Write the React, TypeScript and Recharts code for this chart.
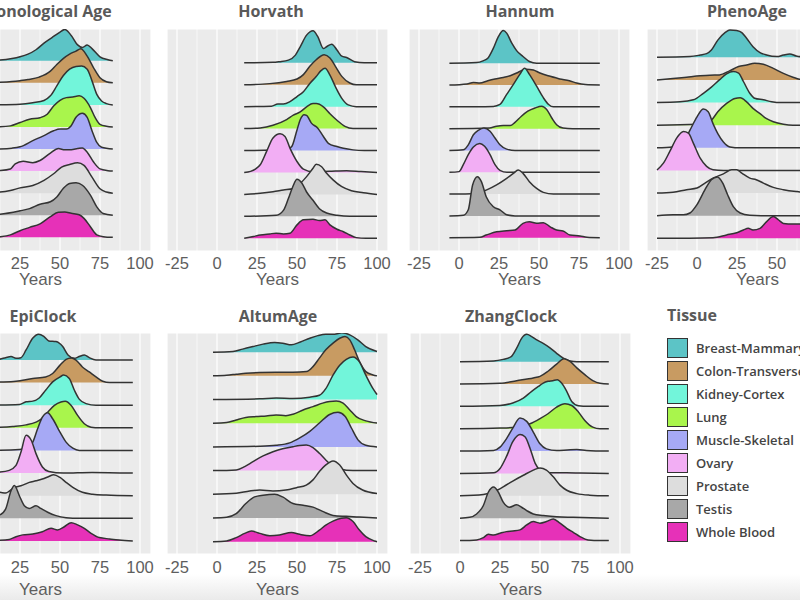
import { ComposedChart, Area, XAxis, YAxis, CartesianGrid } from "recharts";

type Pt = [number, number];

const TISSUES = [
  "Breast-Mammary",
  "Colon-Transverse",
  "Kidney-Cortex",
  "Lung",
  "Muscle-Skeletal",
  "Ovary",
  "Prostate",
  "Testis",
  "Whole Blood",
];
const COLORS = [
  "#5CC4C6",
  "#C89B62",
  "#72F5DA",
  "#A9F54C",
  "#A6A9F5",
  "#F2AEF4",
  "#DDDDDD",
  "#A8A8A8",
  "#E631B8",
];

const X_TICKS = [-25, 0, 25, 50, 75, 100];
const X_MINOR = [-12.5, 12.5, 37.5, 62.5, 87.5];
const ROWS = [0, 1, 2, 3, 4, 5, 6, 7, 8];

// density ridges: [age, height in row units], one list per tissue (top to bottom)
const CHRONO: Pt[][] = [
  [[10, 0.02], [12.5, 0.03], [20, 0.1], [25, 0.18], [30, 0.3], [35, 0.5], [40, 0.8], [45, 1.05], [50, 1.3], [53, 1.42], [57, 1.15], [61, 0.72], [64, 0.6], [67, 0.72], [70, 0.55], [75, 0.18], [80, 0.05], [83, 0]],
  [[10, 0.02], [20, 0.06], [25, 0.1], [30, 0.15], [37, 0.26], [44, 0.53], [48, 0.83], [52, 1.1], [56, 1.3], [60, 1.44], [63, 1.55], [67, 1.21], [71, 0.68], [75, 0.23], [79, 0.05], [83, 0]],
  [[10, 0], [25, 0.03], [33, 0.1], [40, 0.2], [44, 0.41], [48, 0.86], [52, 1.32], [56, 1.62], [60, 1.74], [63.5, 1.76], [67, 1.62], [70, 1.09], [73, 0.48], [76, 0.18], [79, 0.06], [83, 0]],
  [[10, 0], [19, 0.05], [25, 0.2], [31, 0.35], [37.5, 0.42], [42, 0.58], [46, 0.95], [50, 1.21], [54, 1.33], [58, 1.36], [62, 1.41], [65, 1.3], [69, 0.88], [72, 0.42], [75, 0.12], [79, 0.03], [83, 0]],
  [[10, 0], [20, 0.04], [25, 0.1], [33, 0.38], [40, 0.61], [46, 0.83], [50, 0.91], [54, 0.91], [57, 1.06], [60, 1.44], [64, 1.62], [67, 1.44], [70, 0.83], [73, 0.3], [76, 0.08], [83, 0]],
  [[10, 0.02], [12.5, 0.03], [19, 0.1], [22, 0.33], [27, 0.45], [33, 0.38], [37.5, 0.48], [44, 0.82], [49, 1.02], [53, 0.97], [57, 0.97], [61, 1.02], [64, 1.05], [67, 0.86], [71, 0.41], [75, 0.1], [80, 0.02], [83, 0]],
  [[10, 0.04], [12.5, 0.05], [19, 0.12], [25, 0.24], [33, 0.35], [40, 0.58], [46, 0.88], [51, 1.18], [56, 1.3], [61, 1.38], [65, 1.26], [70, 0.73], [75, 0.2], [79, 0.05], [83, 0]],
  [[10, 0.04], [12.5, 0.05], [25, 0.2], [31, 0.3], [37.5, 0.5], [44, 0.61], [48, 0.83], [52, 1.21], [56, 1.44], [60, 1.47], [64, 1.36], [69, 0.91], [73, 0.38], [77, 0.08], [83, 0]],
  [[10, 0], [12.5, 0.02], [19, 0.11], [25, 0.3], [31, 0.45], [37.5, 0.61], [44, 0.94], [49, 1.14], [53, 1.15], [57, 1.09], [62, 1.02], [65, 0.86], [69, 0.48], [73, 0.11], [77, 0.03], [83, 0]],
];

const HORVATH: Pt[][] = [
  [[17, 0], [35, 0.02], [39, 0.05], [44.6, 0.12], [49, 0.35], [52, 0.73], [56, 1.26], [60, 1.46], [63, 1.19], [66.5, 0.65], [68.5, 0.73], [71.7, 0.85], [75, 0.58], [78, 0.3], [81, 0.24], [86, 0.05], [92, 0], [100, 0]],
  [[17, 0], [33, 0.05], [43.5, 0.15], [50, 0.26], [54, 0.46], [58, 0.84], [62, 1.14], [67, 1.37], [70.6, 1.22], [74, 0.84], [78, 0.38], [83, 0.08], [87, 0], [100, 0]],
  [[17, 0], [34, 0.02], [38, 0.12], [41.5, 0.12], [45.6, 0.23], [50, 0.46], [54, 0.68], [58, 1.06], [62, 1.37], [65, 1.64], [67.5, 1.75], [70.6, 1.44], [74, 0.91], [78, 0.38], [82, 0.08], [87, 0], [100, 0]],
  [[17, 0], [27, 0.03], [35, 0.15], [43.5, 0.41], [47.7, 0.61], [52, 0.76], [56, 0.99], [60, 1.14], [62, 1.14], [66.5, 0.99], [70.6, 0.68], [75, 0.38], [80, 0.1], [85, 0], [100, 0]],
  [[17, 0], [43.5, 0.03], [46.7, 0.18], [50, 0.94], [52, 1.4], [54.4, 1.63], [56, 1.6], [59, 1.25], [63, 1.02], [66.5, 0.64], [69.6, 0.33], [75, 0.18], [79, 0.1], [85, 0.03], [92, 0], [100, 0]],
  [[17, 0], [21, 0.05], [24, 0.15], [27, 0.35], [31, 0.96], [35, 1.57], [39.4, 1.76], [42.5, 1.64], [45.6, 1.11], [50, 0.5], [54, 0.15], [60, 0.03], [70, 0.05], [81, 0.08], [90, 0.04], [100, 0]],
  [[17, 0], [27, 0.05], [35, 0.12], [41.5, 0.2], [47.7, 0.27], [52, 0.5], [56, 0.81], [60, 1.19], [62, 1.37], [65.4, 1.26], [68.5, 0.96], [72.7, 0.65], [78, 0.35], [84, 0.17], [91.5, 0.08], [100, 0]],
  [[17, 0], [37, 0.05], [41.5, 0.27], [44.6, 0.81], [47.3, 1.34], [50, 1.69], [53, 1.52], [56, 1.11], [60, 0.73], [64, 0.35], [68.5, 0.15], [75, 0.05], [83, 0], [100, 0]],
  [[17, 0], [22.7, 0.08], [27, 0.15], [33, 0.2], [37, 0.23], [41.5, 0.2], [45.6, 0.23], [50, 0.61], [54, 0.84], [60, 0.87], [64, 0.81], [67.5, 0.84], [70.6, 0.61], [75, 0.41], [79, 0.3], [83, 0.15], [87, 0.03], [93, 0], [100, 0]],
];

const HANNUM: Pt[][] = [
  [[-6, 0], [11, 0.03], [15, 0.11], [18, 0.23], [21.5, 0.69], [24.6, 1.22], [27.7, 1.5], [29.8, 1.38], [33, 0.92], [36, 0.58], [40, 0.31], [44, 0.08], [48.5, 0], [88, 0]],
  [[-6, 0], [5, 0.05], [9, 0.12], [13, 0.09], [18, 0.2], [22.5, 0.28], [27.7, 0.35], [32, 0.43], [36, 0.55], [39, 0.66], [42, 0.73], [46.5, 0.69], [50.6, 0.55], [57, 0.4], [63, 0.28], [69, 0.2], [73.5, 0.09], [79, 0.02], [88, 0]],
  [[-6, 0], [21.5, 0.02], [25.6, 0.11], [29.8, 0.57], [34, 1.03], [38, 1.49], [41, 1.77], [44, 1.49], [48.5, 0.95], [52.7, 0.42], [56, 0.11], [59, 0], [88, 0]],
  [[-6, 0], [19, 0.03], [23.5, 0.11], [27.7, 0.14], [32, 0.14], [35, 0.29], [39, 0.57], [43, 0.8], [47.5, 0.95], [51.7, 1.03], [54.8, 0.88], [58, 0.49], [61, 0.18], [65, 0.03], [71, 0], [88, 0]],
  [[-6, 0], [2.7, 0.03], [5.8, 0.26], [9, 0.72], [12, 0.92], [15.6, 1.03], [19.4, 0.88], [22.5, 0.57], [25.6, 0.26], [29.8, 0.06], [35, 0], [88, 0]],
  [[-6, 0], [0, 0.03], [2.7, 0.35], [5.8, 0.81], [9, 1.16], [13, 1.32], [16, 1.19], [19.4, 0.81], [22.5, 0.35], [25.6, 0.09], [30, 0], [88, 0]],
  [[-6, 0], [11, 0.03], [17, 0.18], [23.5, 0.42], [29.8, 0.72], [34, 0.95], [37, 1.1], [40, 0.95], [44, 0.57], [48.5, 0.26], [52.7, 0.08], [59, 0], [88, 0]],
  [[-6, 0], [2.7, 0.03], [5.8, 0.28], [8.5, 1.42], [11.5, 1.8], [14, 1.57], [17, 0.88], [21.5, 0.42], [25.6, 0.28], [29.8, 0.05], [35, 0], [88, 0]],
  [[-6, 0], [13, 0.02], [17, 0.12], [23.5, 0.27], [29.8, 0.32], [35, 0.35], [40, 0.66], [44, 0.73], [48.5, 0.66], [52.7, 0.69], [57, 0.5], [61, 0.35], [65, 0.31], [69.4, 0.12], [75.6, 0.08], [80, 0.02], [88, 0]],
];

const PHENO: Pt[][] = [
  [[-25, 0], [-4.4, 0.03], [2, 0.1], [6, 0.16], [9, 0.32], [13, 0.76], [17.5, 1.09], [20.6, 1.21], [24.8, 1.18], [28, 1.09], [31, 0.84], [35, 0.47], [39.4, 0.21], [43.5, 0.1], [50, 0.03], [54, 0.1], [58, 0.15], [62, 0.06], [66, 0.02], [90, 0]],
  [[-25, 0], [-15, 0.06], [-6.5, 0.12], [2, 0.18], [8, 0.21], [14, 0.22], [20.6, 0.41], [26, 0.59], [31, 0.66], [36, 0.74], [41.5, 0.69], [47.7, 0.51], [54, 0.29], [60, 0.12], [64, 0.03], [70, 0], [90, 0]],
  [[-25, 0], [-10.6, 0.03], [-2.3, 0.12], [4, 0.41], [9, 0.68], [14, 1.0], [18.5, 1.27], [22.7, 1.37], [26, 1.3], [29, 0.93], [33, 0.41], [36, 0.19], [41.5, 0.12], [46.7, 0.04], [52, 0], [90, 0]],
  [[-25, 0], [0, 0.04], [6, 0.1], [9, 0.22], [13, 0.59], [18.5, 0.96], [23.7, 1.18], [27, 1.21], [31, 1.03], [35, 0.74], [39.4, 0.51], [43.5, 0.29], [47.7, 0.15], [54, 0.04], [60, 0], [90, 0]],
  [[-25, 0], [-15, 0.04], [-8.5, 0.26], [-4.4, 0.78], [0, 1.37], [4, 1.71], [7, 1.59], [10, 1.07], [13, 0.63], [16.5, 0.26], [20.6, 0.04], [27, 0], [90, 0]],
  [[-25, 0.02], [-21, 0.32], [-17, 0.84], [-12.7, 1.43], [-8.5, 1.72], [-5.4, 1.65], [-2.3, 1.21], [2, 0.54], [6, 0.18], [10, 0.03], [16.5, 0], [90, 0]],
  [[-25, 0], [-15, 0.04], [-6.5, 0.15], [0, 0.22], [5, 0.44], [10, 0.66], [16.5, 0.85], [21.7, 1.03], [24.8, 1.03], [28, 0.88], [33, 0.66], [37, 0.59], [41.5, 0.44], [47.7, 0.25], [54, 0.15], [62, 0.07], [70, 0.02], [90, 0]],
  [[-25, 0], [-15, 0.04], [-8.5, 0.04], [-4.4, 0.12], [0, 0.49], [5, 1.15], [9, 1.59], [12.7, 1.71], [16, 1.45], [19, 0.95], [22.7, 0.4], [27, 0.12], [33, 0.02], [40, 0], [90, 0]],
  [[-25, 0], [10, 0.03], [18.5, 0.15], [24.8, 0.25], [29, 0.37], [32, 0.44], [35, 0.37], [39.4, 0.44], [43.5, 0.74], [47.7, 0.96], [51, 0.81], [54, 0.66], [60, 0.63], [64, 0.63], [72, 0.4], [80, 0.15], [90, 0]],
];

const EPI: Pt[][] = [
  [[5, 0], [12, 0.03], [16, 0.1], [19.4, 0.15], [22.5, 0.07], [25.6, 0.1], [28.8, 0.44], [32.9, 0.96], [36.7, 1.14], [40, 1.03], [43, 0.84], [47.5, 0.81], [51.7, 0.59], [55, 0.22], [59, 0.07], [62, 0.15], [65.2, 0.22], [68.3, 0.1], [72.5, 0], [95.5, 0]],
  [[5, 0], [12, 0.02], [22.5, 0.06], [33, 0.18], [41, 0.25], [45.4, 0.4], [50, 0.77], [53.8, 1.02], [57, 1.09], [60, 0.99], [64, 0.69], [68.3, 0.47], [72.5, 0.25], [76.7, 0.06], [81, 0], [95.5, 0]],
  [[5, 0], [24.6, 0.03], [28.8, 0.15], [33, 0.18], [37, 0.32], [41, 0.66], [45.4, 1.03], [50, 1.25], [52.3, 1.33], [55.8, 1.18], [59, 0.66], [62, 0.27], [66.3, 0.07], [72.5, 0], [95.5, 0]],
  [[5, 0], [20.4, 0.06], [28.8, 0.13], [35, 0.25], [38, 0.37], [42.3, 0.69], [46.5, 0.99], [50.6, 1.14], [53.3, 1.17], [57, 0.99], [61, 0.55], [65.2, 0.18], [69.4, 0.03], [74.6, 0], [95.5, 0]],
  [[5, 0], [24.6, 0.04], [29.8, 0.15], [33, 0.37], [36, 0.96], [39, 1.47], [42.3, 1.67], [45.4, 1.4], [50, 0.81], [53.8, 0.37], [58, 0.1], [62, 0], [95.5, 0]],
  [[5, 0.02], [12, 0.04], [18.3, 0.12], [22.5, 0.34], [25.6, 0.93], [28.8, 1.67], [32, 1.45], [35, 0.86], [39, 0.27], [43, 0.07], [52, 0], [70, 0.03], [95.5, 0]],
  [[5, 0.1], [12, 0.15], [16, 0.12], [21.5, 0.37], [25.6, 0.44], [30.8, 0.59], [35, 0.66], [39, 0.74], [43, 0.85], [46, 0.93], [50, 0.81], [53.8, 0.59], [58, 0.37], [64, 0.15], [70.4, 0.07], [78.8, 0.03], [95.5, 0]],
  [[5, 0.1], [12, 0.15], [16, 0.41], [19.4, 1.22], [21.5, 1.45], [24.6, 1.0], [27.7, 0.56], [30.8, 0.44], [35, 0.56], [38, 0.44], [42.3, 0.27], [47.5, 0.12], [53.8, 0.03], [62, 0], [95.5, 0]],
  [[5, 0], [18.3, 0.07], [22.5, 0.19], [26.7, 0.27], [33, 0.31], [39, 0.41], [44.4, 0.56], [48.5, 0.49], [52.7, 0.63], [57, 0.81], [61, 0.71], [65.2, 0.56], [69.4, 0.34], [74.6, 0.15], [81, 0.09], [87, 0.04], [95.5, 0]],
];

const ALTUM: Pt[][] = [
  [[-2.5, 0], [10, 0.03], [16, 0.13], [22.5, 0.24], [28.8, 0.34], [36, 0.41], [41, 0.38], [46.5, 0.31], [51.7, 0.42], [58, 0.59], [63, 0.7], [68, 0.76], [73.5, 0.76], [78, 0.82], [83, 0.73], [88, 0.52], [93, 0.24], [100, 0.03]],
  [[-2.5, 0], [6, 0.03], [12, 0.07], [18, 0.11], [26.7, 0.14], [37, 0.15], [47.5, 0.15], [56, 0.18], [60, 0.39], [64, 0.75], [68, 1.1], [72.5, 1.38], [76.7, 1.59], [80, 1.66], [83, 1.52], [86, 1.1], [89, 0.61], [93, 0.18], [97.5, 0.04], [100, 0]],
  [[-2.5, 0], [26.7, 0.03], [37, 0.07], [47.5, 0.04], [58, 0.1], [64, 0.18], [68, 0.46], [72.5, 1.03], [76.7, 1.45], [80.8, 1.7], [85, 1.8], [89, 1.59], [93, 1.03], [97.5, 0.46], [100, 0.21]],
  [[-2.5, 0], [6, 0.03], [12, 0.14], [18, 0.24], [24.6, 0.28], [30.8, 0.31], [37, 0.35], [43, 0.32], [47.5, 0.38], [53.8, 0.56], [60, 0.7], [66, 0.85], [70.4, 0.92], [74.6, 0.94], [78.8, 0.85], [83, 0.56], [87, 0.28], [93, 0.1], [100, 0.01]],
  [[-2.5, 0], [26.7, 0.03], [37, 0.07], [45.4, 0.17], [51.7, 0.38], [58, 0.66], [64, 1.01], [70.4, 1.37], [75.6, 1.46], [80, 1.3], [84, 0.8], [88, 0.31], [93, 0.07], [100, 0]],
  [[-2.5, 0], [12, 0.03], [17.3, 0.17], [22.5, 0.38], [28.8, 0.62], [35, 0.8], [41, 0.92], [47.5, 1.01], [51.7, 1.06], [55.8, 1.08], [60, 0.97], [64, 0.73], [68, 0.45], [71.5, 0.24], [76.7, 0.07], [85, 0], [100, 0]],
  [[-2.5, 0], [12, 0.04], [20.4, 0.14], [26.7, 0.18], [35, 0.14], [43, 0.18], [49.6, 0.28], [55.8, 0.39], [60, 0.61], [64, 0.96], [68, 1.24], [72.5, 1.41], [76.7, 1.24], [80.8, 0.82], [85, 0.46], [91, 0.18], [100, 0.03]],
  [[-2.5, 0], [6, 0.03], [12, 0.18], [18, 0.61], [23.5, 0.89], [28.8, 0.96], [36, 1.0], [41, 0.89], [47.5, 0.61], [53.8, 0.54], [60, 0.46], [66, 0.28], [72.5, 0.11], [80.8, 0.07], [89, 0.04], [100, 0]],
  [[-2.5, 0], [6, 0.03], [12, 0.17], [17.3, 0.35], [21.5, 0.45], [26.7, 0.35], [33, 0.25], [39, 0.28], [46.5, 0.39], [51.7, 0.31], [58, 0.25], [64, 0.49], [68, 0.7], [72.5, 0.87], [77.7, 0.99], [80.8, 1.01], [85, 0.85], [89, 0.49], [93, 0.21], [98.5, 0.03], [100, 0]],
];

const ZHANG: Pt[][] = [
  [[0, 0], [21, 0.03], [27, 0.1], [32, 0.22], [35.4, 0.6], [38.5, 1.04], [41.7, 1.22], [44.8, 1.12], [48, 0.97], [52, 0.82], [56, 0.63], [60.4, 0.37], [64.6, 0.15], [68.8, 0.03], [73, 0], [93, 0]],
  [[0, 0], [25, 0.03], [35.4, 0.15], [45.8, 0.27], [50, 0.34], [55, 0.57], [60.4, 0.89], [65, 1.13], [68.8, 1.01], [73, 0.72], [78, 0.42], [83, 0.15], [87.5, 0.03], [93, 0]],
  [[0, 0], [25, 0.04], [33, 0.15], [39.6, 0.37], [44.8, 0.67], [49, 0.89], [52, 1.04], [55, 1.12], [58, 1.15], [60.8, 1.19], [63.5, 1.04], [66.7, 0.67], [69.8, 0.22], [74, 0.03], [80, 0], [93, 0]],
  [[0, 0], [25, 0.03], [35.4, 0.07], [43.8, 0.22], [50, 0.45], [55, 0.67], [60.4, 0.97], [65.6, 1.12], [69.8, 1.04], [74, 0.75], [78, 0.37], [83, 0.07], [87.5, 0], [93, 0]],
  [[0, 0], [21, 0.03], [25, 0.18], [29, 0.55], [33, 1.03], [37.5, 1.48], [41.7, 1.33], [45.8, 0.85], [50, 0.33], [54, 0.1], [60.4, 0.03], [67, 0.05], [73, 0.07], [79, 0.03], [93, 0]],
  [[0, 0], [21, 0.03], [25, 0.22], [29, 0.75], [33, 1.42], [37.5, 1.74], [40.6, 1.64], [43.8, 1.12], [47, 0.45], [50, 0.15], [54, 0.03], [66.7, 0.03], [75, 0.02], [93, 0]],
  [[0, 0], [14.6, 0.06], [21, 0.18], [27, 0.4], [33, 0.66], [39.6, 0.92], [45.8, 1.15], [50, 1.25], [54, 1.15], [58.3, 0.85], [62.5, 0.48], [66.7, 0.25], [73, 0.1], [81, 0.03], [93, 0]],
  [[0, 0], [6, 0.04], [10.4, 0.19], [14.6, 0.57], [17.7, 1.16], [21, 1.39], [24, 1.16], [27, 0.72], [31, 0.49], [35.4, 0.6], [38.5, 0.49], [41.7, 0.34], [45.8, 0.19], [52, 0.12], [60.4, 0.06], [70.8, 0.04], [93, 0]],
  [[0, 0], [10.4, 0.03], [14.6, 0.13], [17.7, 0.28], [21, 0.25], [25, 0.33], [29, 0.4], [33, 0.43], [37.5, 0.48], [41.7, 0.7], [45.8, 0.85], [50, 0.78], [54, 0.85], [58.3, 0.97], [62.5, 0.78], [66.7, 0.55], [70.8, 0.37], [75, 0.18], [80, 0.03], [87.5, 0], [93, 0]],
];

// layout
const X_DOMAIN: [number, number] = [-31.25, 106.875];
const PX_PER_YEAR = 1.6;
const PLOT_W = (X_DOMAIN[1] - X_DOMAIN[0]) * PX_PER_YEAR;
const Y_W = 10;
const AXIS_FONT = "'Liberation Sans', Arial, sans-serif";
const TITLE_FONT = "'Open Sans', 'Noto Sans', sans-serif";

const PANELS = [
  { title: "Chronological Age", series: CHRONO, zeroX: -20, top: 0, mt: 29, mb: 19, tm: 6, yDomain: [-0.62, 9.44], titleX: 40, titleY: 11 },
  { title: "Horvath", series: HORVATH, zeroX: 217, top: 0, mt: 29, mb: 19, tm: 6, yDomain: [-0.58, 9.54], titleX: 271, titleY: 11 },
  { title: "Hannum", series: HANNUM, zeroX: 459, top: 0, mt: 29, mb: 19, tm: 6, yDomain: [-0.61, 9.57], titleX: 520, titleY: 11 },
  { title: "PhenoAge", series: PHENO, zeroX: 697, top: 0, mt: 29, mb: 19, tm: 6, yDomain: [-0.56, 9.25], titleX: 747, titleY: 11 },
  { title: "EpiClock", series: EPI, zeroX: -20, top: 300, mt: 33, mb: 16, tm: 7, yDomain: [-0.575, 9.19], titleX: 43, titleY: 316 },
  { title: "AltumAge", series: ALTUM, zeroX: 217, top: 300, mt: 33, mb: 16, tm: 7, yDomain: [-0.52, 8.81], titleX: 278, titleY: 316 },
  { title: "ZhangClock", series: ZHANG, zeroX: 460, top: 300, mt: 33, mb: 16, tm: 7, yDomain: [-0.6, 9.28], titleX: 511, titleY: 316 },
];

type PanelCfg = (typeof PANELS)[number];

function RidgePanel({ cfg }: { cfg: PanelCfg }) {
  const plotLeft = cfg.zeroX + X_DOMAIN[0] * PX_PER_YEAR;
  const width = Y_W + PLOT_W + 4;
  return (
    <>
      <div style={{ position: "absolute", left: plotLeft - Y_W, top: cfg.top }}>
        <ComposedChart
          width={width}
          height={300}
          margin={{ top: cfg.mt, right: 4, bottom: cfg.mb, left: 0 }}
        >
          <CartesianGrid
            fill="#EBEBEB"
            stroke="#FFFFFF"
            strokeWidth={0.6}
            horizontal={false}
            verticalValues={X_MINOR}
          />
          <CartesianGrid stroke="#FFFFFF" strokeWidth={1.2} />
          <XAxis
            type="number"
            dataKey="x"
            domain={X_DOMAIN}
            ticks={X_TICKS}
            interval={0}
            allowDataOverflow
            axisLine={false}
            tickLine={false}
            tickSize={0}
            tickMargin={cfg.tm}
            height={30}
            tick={{ fill: "#5E5E5E", fontSize: 16.5, fontFamily: AXIS_FONT }}
          />
          <YAxis
            type="number"
            domain={cfg.yDomain}
            ticks={ROWS}
            allowDataOverflow
            width={Y_W}
            tick={false}
            tickSize={4}
            tickLine={{ stroke: "#333333" }}
            axisLine={false}
          />
          {cfg.series.map((pts, i) => (
            <Area
              key={TISSUES[i]}
              data={pts.map(([x, h]) => ({ x, y: 8 - i + h }))}
              dataKey="y"
              baseValue={8 - i}
              type="monotone"
              fill={COLORS[i]}
              fillOpacity={1}
              stroke="#333333"
              strokeWidth={1.5}
              dot={false}
              activeDot={false}
              isAnimationActive={false}
            />
          ))}
        </ComposedChart>
      </div>
      <div
        style={{
          position: "absolute",
          left: cfg.titleX - 120,
          width: 240,
          top: cfg.titleY - 12,
          lineHeight: "24px",
          textAlign: "center",
          fontFamily: TITLE_FONT,
          fontWeight: 700,
          fontSize: 16,
          color: "#595959",
          whiteSpace: "nowrap",
        }}
      >
        {cfg.title}
      </div>
      <div
        style={{
          position: "absolute",
          left: plotLeft + PLOT_W / 2 - 60,
          width: 120,
          top: cfg.top === 0 ? 269 : 579,
          lineHeight: "22px",
          textAlign: "center",
          fontFamily: AXIS_FONT,
          fontSize: 17,
          color: "#5E5E5E",
        }}
      >
        Years
      </div>
    </>
  );
}

function TissueLegend() {
  return (
    <div style={{ position: "absolute", left: 667, top: 303 }}>
      <div
        style={{
          fontFamily: TITLE_FONT,
          fontWeight: 700,
          fontSize: 16,
          color: "#595959",
          lineHeight: "24px",
        }}
      >
        Tissue
      </div>
      {TISSUES.map((t, i) => (
        <div
          key={t}
          style={{
            position: "absolute",
            left: 0,
            top: 35 + i * 23,
            display: "flex",
            alignItems: "center",
            whiteSpace: "nowrap",
          }}
        >
          <div
            style={{
              width: 19,
              height: 18,
              background: COLORS[i],
              border: "1.5px solid #333333",
            }}
          />
          <span
            style={{
              marginLeft: 8,
              fontFamily: TITLE_FONT,
              fontWeight: 600,
              fontSize: 13,
              color: "#444444",
            }}
          >
            {t}
          </span>
        </div>
      ))}
    </div>
  );
}

export default function App() {
  return (
    <div
      style={{
        position: "absolute",
        left: 0,
        top: 0,
        width: 800,
        height: 600,
        overflow: "hidden",
        background: "#FFFFFF",
      }}
    >
      <div
        style={{
          position: "absolute",
          left: 0,
          top: 574,
          width: 800,
          height: 26,
          background: "linear-gradient(#FFFFFF, #EAEAEA)",
        }}
      />
      {PANELS.map((p) => (
        <RidgePanel key={p.title} cfg={p} />
      ))}
      <TissueLegend />
    </div>
  );
}
